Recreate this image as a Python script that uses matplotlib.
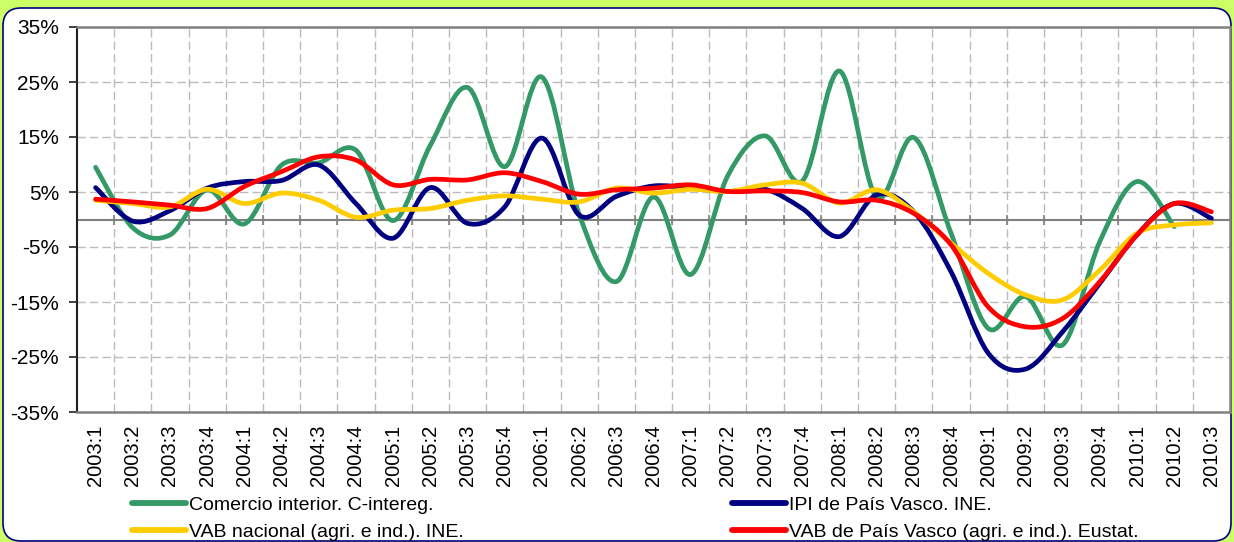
import numpy as np
import matplotlib
matplotlib.use("Agg")
import matplotlib.pyplot as plt
from matplotlib.path import Path
from matplotlib.patches import PathPatch, FancyBboxPatch
from matplotlib.lines import Line2D
from matplotlib.transforms import IdentityTransform

plt.rcParams["font.family"] = ["Liberation Sans", "DejaVu Sans"]

# trimestres
periodos = ["2003:1", "2003:2", "2003:3", "2003:4", "2004:1", "2004:2", "2004:3", "2004:4",
            "2005:1", "2005:2", "2005:3", "2005:4", "2006:1", "2006:2", "2006:3", "2006:4",
            "2007:1", "2007:2", "2007:3", "2007:4", "2008:1", "2008:2", "2008:3", "2008:4",
            "2009:1", "2009:2", "2009:3", "2009:4", "2010:1", "2010:2", "2010:3"]

# tasas de variacion interanual (%)
comercio = [9.5, -1.5, -2.8, 5.4, -0.8, 9.9, 10.3, 12.6, -0.2, 13.5, 24.0, 9.6, 25.9, 1.0,
            -11.3, 4.1, -10.0, 8.0, 15.2, 7.0, 27.0, 4.0, 14.9, -2.5, -19.8, -14.0, -22.8,
            -4.0, 6.9, -1.3, None]
ipi_pv = [5.8, -0.3, 1.6, 5.7, 6.9, 7.1, 9.9, 2.9, -3.4, 5.8, -0.7, 2.3, 14.8, 0.8, 4.2,
          6.1, 5.7, 5.1, 5.5, 2.0, -3.1, 4.5, 1.4, -9.5, -24.3, -27.2, -20.4, -11.6, -2.8,
          2.9, 0.2]
vab_nac = [3.5, 2.9, 2.3, 5.5, 2.9, 4.8, 3.5, 0.4, 1.7, 2.0, 3.5, 4.3, 3.7, 3.2, 5.7, 4.8,
           5.5, 5.1, 6.3, 6.6, 3.0, 5.4, 1.4, -4.3, -9.8, -13.7, -14.6, -9.2, -2.5, -1.0,
           -0.6]
vab_pv = [3.7, 3.2, 2.6, 2.0, 6.0, 8.7, 11.4, 10.8, 6.3, 7.3, 7.2, 8.5, 6.9, 4.6, 5.4, 5.7,
          6.3, 5.1, 5.2, 4.9, 3.2, 3.5, 1.1, -4.6, -15.9, -19.5, -18.0, -11.3, -2.8, 2.9,
          1.4]

series = [
    ("Comercio interior. C-intereg.", comercio, "#339966"),
    ("IPI de País Vasco. INE.", ipi_pv, "#000080"),
    ("VAB nacional (agri. e ind.). INE.", vab_nac, "#FFCC00"),
    ("VAB de País Vasco (agri. e ind.). Eustat.", vab_pv, "#FF0000"),
]

y_ticks = [-35, -25, -15, -5, 5, 15, 25, 35]
y_labels = ["-35%", "-25%", "-15%", "-5%", "5%", "15%", "25%", "35%"]


def curva_suave(valores):
    """Linea suavizada tipo Excel (bezier con tension 1/6)."""
    pts = np.array([(i, v) for i, v in enumerate(valores) if v is not None], dtype=float)
    n = len(pts)
    verts = [pts[0]]
    codes = [Path.MOVETO]
    for i in range(n - 1):
        p0 = pts[max(i - 1, 0)]
        p1 = pts[i]
        p2 = pts[i + 1]
        p3 = pts[min(i + 2, n - 1)]
        verts += [p1 + (p2 - p0) / 6.0, p2 - (p3 - p1) / 6.0, p2]
        codes += [Path.CURVE4] * 3
    return Path(verts, codes)


W, H = 1234, 542
fig = plt.figure(figsize=(W / 100, H / 100), dpi=100)
fig.patch.set_facecolor("#CCFF66")

# marco redondeado
marco = FancyBboxPatch((3, 1), 1228, 533, boxstyle="round,pad=0,rounding_size=18",
                       transform=IdentityTransform(), facecolor="white",
                       edgecolor="#000080", linewidth=1.2, zorder=-5)
fig.patches.append(marco)

ax = fig.add_axes([77 / W, (H - 412) / H, 1153 / W, 385 / H])
ax.set_facecolor("white")
ax.set_zorder(2)

n = len(periodos)
ax.set_xlim(-0.5, n - 0.5)
ax.set_ylim(-35, 35)

ax.set_xticks(range(n))
ax.set_xticklabels(periodos, rotation=90, fontsize=14.5)
ax.set_xticks(np.arange(n - 1) + 0.5, minor=True)
ax.tick_params(axis="x", which="both", length=0, pad=9)

ax.set_yticks(y_ticks)
ax.set_yticklabels(y_labels, fontsize=15)
ax.tick_params(axis="y", length=6, width=1.2, color="#202020", pad=7)

ax.grid(axis="y", which="major", color="#BBBBBB", linestyle=(0, (6, 3)), linewidth=1)
ax.grid(axis="x", which="minor", color="#BBBBBB", linestyle=(0, (6, 3)), linewidth=1)
ax.set_axisbelow(True)

for lado in ["top", "right", "bottom"]:
    ax.spines[lado].set_color("#808080")
    ax.spines[lado].set_linewidth(1.8)
ax.spines["left"].set_color("#202020")
ax.spines["left"].set_linewidth(1.5)

# eje de categorias en el cero
ax.axhline(0, color="#808080", linewidth=1.5, zorder=1)
ax.plot(np.arange(n - 1) + 0.5, np.zeros(n - 1), linestyle="none", marker="|",
        markersize=7, markeredgewidth=1.2, color="#808080", zorder=1)

handles = {}
for nombre, valores, color in series:
    patch = PathPatch(curva_suave(valores), facecolor="none", edgecolor=color,
                      linewidth=3.4, capstyle="round", joinstyle="round", zorder=3)
    ax.add_patch(patch)
    handles[nombre] = Line2D([], [], color=color, linewidth=4.2, solid_capstyle="round")

# leyenda en dos columnas
nombres = [s[0] for s in series]
for k, x0 in enumerate([132, 732]):
    fig.legend([handles[nombres[k]], handles[nombres[k + 2]]], [nombres[k], nombres[k + 2]],
               loc="upper left", bbox_to_anchor=(x0 / W, (H - 496) / H),
               frameon=False, fontsize=14, handlelength=2.8, handletextpad=0.15,
               borderpad=0, borderaxespad=0, labelspacing=0.5)

fig.savefig("out.png", dpi=100, facecolor=fig.get_facecolor())
